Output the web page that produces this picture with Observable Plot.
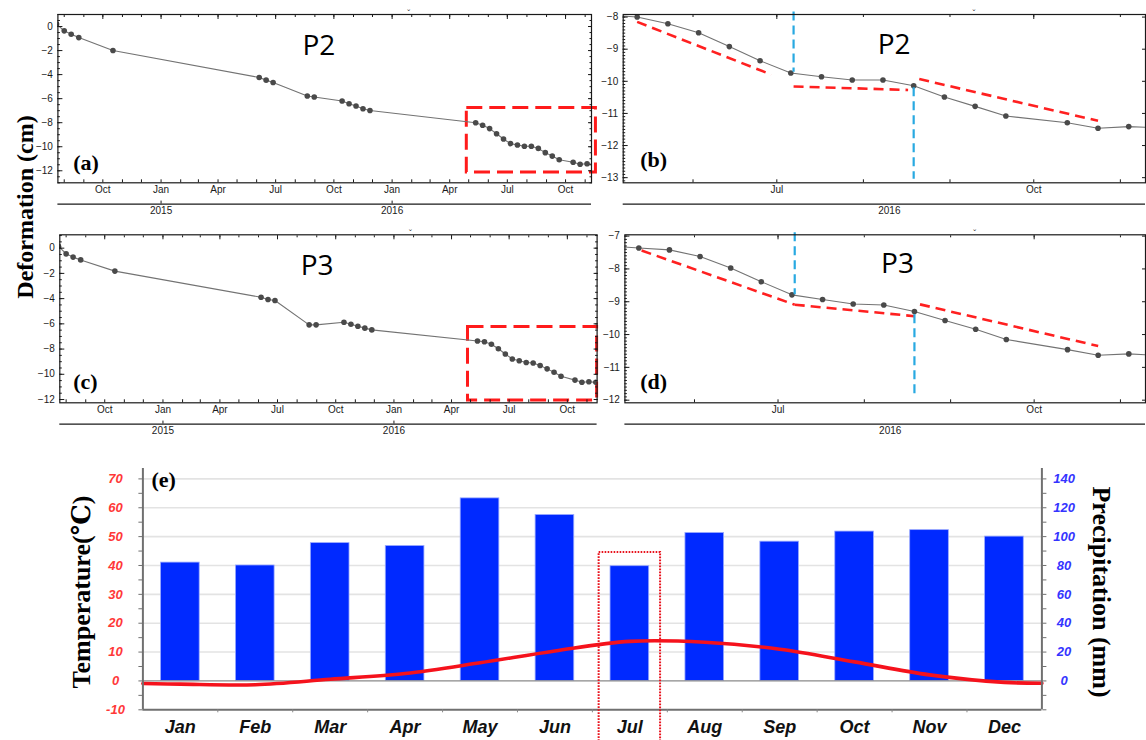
<!DOCTYPE html>
<html><head><meta charset="utf-8">
<script src="https://cdn.jsdelivr.net/npm/d3@7"></script>
<script src="https://cdn.jsdelivr.net/npm/@observablehq/plot@0.6"></script>
<style>
html,body{margin:0;padding:0;background:#fff;}
#fig{position:relative;width:1146px;height:740px;overflow:hidden;background:#fff;}
.ttl{position:absolute;white-space:nowrap;font-family:"Liberation Serif","DejaVu Serif",serif;font-weight:bold;color:#000;line-height:1;}
</style></head><body>
<div id="fig">
  <div class="ttl" style="left:25px;top:207px;font-size:24px;transform:translate(-50%,-50%) rotate(-90deg);">Deformation (cm)</div>
  <div class="ttl" style="left:82px;top:592px;font-size:26px;transform:translate(-50%,-50%) rotate(-90deg);">Temperature(℃)</div>
  <div class="ttl" style="left:1101px;top:592px;font-size:26px;transform:translate(-50%,-50%) rotate(90deg);">Precipitation (mm)</div>
</div>
<script>
// ---------------- data: deformation time series ----------------
const acqDates = ["2014-07-20","2014-08-01","2014-08-12","2014-08-24","2014-10-17",
  "2015-06-05","2015-06-16","2015-06-27","2015-08-20","2015-08-31","2015-10-14","2015-10-25",
  "2015-11-05","2015-11-16","2015-11-27",
  "2016-05-12","2016-05-23","2016-06-03","2016-06-14","2016-06-25","2016-07-06","2016-07-17",
  "2016-07-28","2016-08-08","2016-08-19","2016-08-30","2016-09-10","2016-09-21","2016-10-13",
  "2016-10-24","2016-11-04","2016-11-15"];
const p2Values = [0.2,-0.36,-0.64,-0.92,-2.0,-4.24,-4.46,-4.66,-5.78,-5.86,-6.2,-6.42,-6.61,-6.84,-6.98,
  -8.0,-8.21,-8.49,-8.92,-9.36,-9.74,-9.86,-9.96,-9.96,-10.14,-10.49,-10.78,-11.08,-11.29,-11.46,-11.41,-11.45];
const p3Values = [0.15,-0.45,-0.71,-0.93,-1.82,-3.89,-4.07,-4.15,-6.08,-6.08,-5.87,-6.03,-6.19,-6.34,-6.48,
  -7.36,-7.42,-7.62,-7.97,-8.39,-8.79,-8.93,-9.07,-9.10,-9.30,-9.57,-9.84,-10.15,-10.46,-10.63,-10.59,-10.64];

// trend segments [startDate, startValue, endDate, endValue]
const p2Trends = [["2016-05-12",-8.15,"2016-06-29",-9.79],["2016-07-07",-10.16,"2016-08-17",-10.27],["2016-08-21",-9.93,"2016-10-24",-11.23]];
const p3Trends = [["2016-05-13",-7.44,"2016-07-07",-9.09],["2016-07-07",-9.09,"2016-08-19",-9.44],["2016-08-21",-9.08,"2016-10-24",-10.35]];
// stage breaks [date, fromValue, toValue]
const p2Breaks = [["2016-07-07",-7.84,-9.72],["2016-08-19",-10.2,-13.05]];
const p3Breaks = [["2016-07-07",-6.9,-8.79],["2016-08-19",-9.40,-11.88]];
// zoom boxes [startDate, endDate, top, bottom]
const p2Box = ["2016-04-28","2016-11-18",-6.78,-12.14];
const p3Box = ["2016-04-27","2016-11-17",-6.26,-12.08];

// ---------------- data: climate ----------------
const months = ["Jan","Feb","Mar","Apr","May","Jun","Jul","Aug","Sep","Oct","Nov","Dec"];
const precipitation = [82, 80, 95.5, 93.5, 126.5, 115, 79.5, 102.5, 96.5, 103.5, 104.5, 100];
const temperature = [-1.1, -1.3, 0.6, 2.6, 6.3, 10.4, 13.7, 13.4, 11.0, 6.6, 2.1, -0.5];
const temperatureAtAxes = [-0.9, -0.8];
const tempTicks = [-10, 0, 10, 20, 30, 40, 50, 60, 70];
const precipTicks = [0, 20, 40, 60, 80, 100, 120, 140];
const highlightMonth = ["Jul", 44.5, -21];

// ---------------- helpers ----------------
const parse = d3.utcParse("%Y-%m-%d");
const fig = document.getElementById("fig");
const minus = d => (d < 0 ? "\u2212" + (-d) : String(d));
const tickFont = {fontFamily: "Liberation Sans, Arial, sans-serif", fontSize: 10, fill: "#1a1a1a"};

function place(svg, left, top) {
  svg.style.position = "absolute";
  svg.style.left = left + "px";
  svg.style.top = top + "px";
  fig.appendChild(svg);
}

function tsPanel(o) {
  const series = acqDates.map((d, i) => ({date: parse(d), v: o.values[i]}));
  const [x0, x1] = o.xDomain.map(parse);
  const [y0, y1] = o.yDomain;
  const monthsT = d3.utcMonth.range(x0, x1);
  const quarters = d3.utcMonth.every(3).range(x0, x1);
  const years = d3.utcYear.range(x0, x1);
  const majors = d3.range(Math.ceil(y0 / o.major) * o.major, y1 + 1e-9, o.major).map(v => +v.toFixed(3));
  const minors = d3.range(Math.ceil(y0 / o.minor) * o.minor, y1 + 1e-9, o.minor).map(v => +v.toFixed(3));
  const marks = [
    o.box ? Plot.rect([o.box], {x1: d => parse(d[0]), x2: d => parse(d[1]), y1: d => d[2], y2: d => d[3],
      fill: "none", stroke: "#ff1b1b", strokeWidth: 3, strokeDasharray: "16,7"}) : null,
    Plot.line(series, {x: "date", y: "v", stroke: "#737373", strokeWidth: 1.1, clip: true}),
    Plot.dot(series, {x: "date", y: "v", r: 2.8, fill: "#4a4a4a", clip: true}),
    o.trends ? Plot.link(o.trends, {x1: d => parse(d[0]), y1: d => d[1], x2: d => parse(d[2]), y2: d => d[3],
      stroke: "#ff2020", strokeWidth: 2.6, strokeDasharray: "10,6"}) : null,
    o.breaks ? Plot.ruleX(o.breaks, {x: d => parse(d[0]), y1: d => d[1], y2: d => d[2],
      stroke: "#28a9e1", strokeWidth: 2.2, strokeDasharray: "9,5"}) : null,
    Plot.frame({stroke: "#1a1a1a", strokeWidth: 1.2}),
    Plot.axisX(monthsT, {anchor: "bottom", tickSize: -3, fill: "none", stroke: "#1a1a1a", label: null}),
    Plot.axisX(monthsT, {anchor: "top", tickSize: -2, fill: "none", stroke: "#1a1a1a", label: null}),
    Plot.axisX(quarters, {anchor: "top", tickSize: -4, fill: "none", stroke: "#1a1a1a", label: null}),
    Plot.axisY(minors, {anchor: "left", tickSize: -2.5, fill: "none", stroke: "#1a1a1a", label: null}),
    Plot.axisY(majors, {anchor: "left", tickSize: -5, fill: "none", stroke: "#1a1a1a", label: null}),
    o.rightMinor ? Plot.axisY(minors, {anchor: "right", tickSize: -2.5, fill: "none", stroke: "#1a1a1a", label: null}) : null,
    Plot.axisY(majors, {anchor: "right", tickSize: -4, fill: "none", stroke: "#1a1a1a", label: null}),
    Plot.text(majors, {y: d => d, text: minus, frameAnchor: "left", dx: -5, textAnchor: "end", ...tickFont}),
    Plot.text(quarters, {x: d => d, text: d3.utcFormat("%b"), frameAnchor: "bottom", dy: 10.5, ...tickFont}),
    Plot.ruleY([y0], {dy: 21.3, stroke: "#1a1a1a", strokeWidth: 1.3}),
    years.length ? Plot.axisX(years, {anchor: "bottom", tickSize: 3, dy: 18.3, fill: "none", stroke: "#1a1a1a", label: null}) : null,
    years.length
      ? Plot.text(years, {x: d => d, text: d3.utcFormat("%Y"), frameAnchor: "bottom", dy: 31.5, ...tickFont})
      : Plot.text([d3.utcFormat("%Y")(x0)], {frameAnchor: "bottom", dy: 31.5, dx: 5, ...tickFont}),
    Plot.text(["\u02c7"], {frameAnchor: "top-left", dx: o.caretDx, dy: -3, fontSize: 8, fill: "#333"}),
    Plot.text([o.title], {frameAnchor: "top-left", dx: o.titleDx, dy: o.titleDy, textAnchor: "middle",
      fontFamily: "Open Sans, Liberation Sans, sans-serif", fontSize: 28, fill: "#000"}),
    Plot.text([o.tag], {frameAnchor: "bottom-left", dx: o.tagDx, dy: o.tagDy, textAnchor: "start", lineAnchor: "bottom",
      fontFamily: "Liberation Serif, DejaVu Serif, serif", fontWeight: "bold", fontSize: 22, fill: "#000"})
  ];
  return Plot.plot({
    width: o.width, height: o.height,
    marginLeft: o.ml, marginRight: o.mr, marginTop: o.mt, marginBottom: o.mb,
    style: {background: "transparent", overflow: "visible"},
    x: {type: "utc", domain: [x0, x1]},
    y: {domain: [y0, y1]},
    marks
  });
}

// (a)
place(tsPanel({values: p2Values, xDomain: ["2014-07-22","2016-11-11"], yDomain: [-13, 1], major: 2, minor: 0.5,
  box: p2Box, rightMinor: true, title: "P2", tag: "(a)",
  width: 600, height: 225, ml: 57.4, mr: 9, mt: 14, mb: 42.7,
  titleDx: 261, titleDy: 21, tagDx: 15.3, tagDy: -13, caretDx: 349}), 0, 0);
// (b)
place(tsPanel({values: p2Values, xDomain: ["2016-05-07","2016-11-10"], yDomain: [-13.16, -7.92], major: 1, minor: 0.1,
  trends: p2Trends, breaks: p2Breaks, title: "P2", tag: "(b)",
  width: 586, height: 225, ml: 62.7, mr: 1, mt: 14, mb: 42.7,
  titleDx: 271, titleDy: 19.5, tagDx: 17, tagDy: -16, caretDx: 349}), 560, 0);
// (c)
place(tsPanel({values: p3Values, xDomain: ["2014-07-22","2016-11-17"], yDomain: [-12.26, 1.06], major: 2, minor: 0.5,
  box: p3Box, rightMinor: true, title: "P3", tag: "(c)",
  width: 600, height: 220, ml: 59.3, mr: 3.4, mt: 9.3, mb: 42.7,
  titleDx: 257.4, titleDy: 20.7, tagDx: 13.4, tagDy: -14, caretDx: 349}), 0, 225);
// (d)
place(tsPanel({values: p3Values, xDomain: ["2016-05-07","2016-11-10"], yDomain: [-12.08, -6.96], major: 1, minor: 0.1,
  trends: p3Trends, breaks: p3Breaks, title: "P3", tag: "(d)",
  width: 586, height: 220, ml: 64.4, mr: 1, mt: 9.3, mb: 42.7,
  titleDx: 272.6, titleDy: 18.7, tagDx: 15.3, tagDy: -14, caretDx: 348}), 560, 225);

// (e) climate chart: precipitation bars on a scale of 2 mm per degree
const mmPerDegree = 2;
const barHalf = 0.258;
const boxHalf = 0.41;
const monthIdx = months.map((m, i) => i + 1);
const tempLine = [{x: 0.5, t: temperatureAtAxes[0]},
  ...temperature.map((t, i) => ({x: i + 1, t})),
  {x: months.length + 0.5, t: temperatureAtAxes[1]}];
const xDom = [0.5, months.length + 0.5];
const yDom = [-10, 73.6];
const axisGray = "#707070";
const boldItalic = {fontFamily: "Liberation Sans, Arial, sans-serif", fontWeight: "bold", fontStyle: "italic"};

place(Plot.plot({
  width: 1146, height: 280,
  marginLeft: 142.4, marginRight: 104.6, marginTop: 8, marginBottom: 30.7,
  style: {background: "transparent", overflow: "visible"},
  x: {type: "linear", domain: xDom},
  y: {domain: yDom},
  marks: [
    Plot.ruleY(tempTicks.filter(t => t > 0), {stroke: "#e3e3e3", strokeWidth: 1.6}),
    Plot.rect(monthIdx, {x1: i => i - barHalf, x2: i => i + barHalf, y1: 0, y2: i => precipitation[i - 1] / mmPerDegree,
      fill: "#0029ff", stroke: "#9aaaff", strokeWidth: 0.8}),
    Plot.ruleY([0], {stroke: "#8a8a8a", strokeWidth: 1.3}),
    Plot.line(tempLine, {x: "x", y: "t", curve: "catmull-rom", stroke: "#f5121c", strokeWidth: 3.6}),
    Plot.ruleX(xDom, {y1: yDom[0], y2: yDom[1], stroke: axisGray, strokeWidth: 2}),
    Plot.ruleY([yDom[0]], {stroke: axisGray, strokeWidth: 2}),
    Plot.axisY(d3.range(-10, 71, 5), {anchor: "left", tickSize: 4, fill: "none", stroke: axisGray, label: null}),
    Plot.axisY(d3.range(-10, 71, 5), {anchor: "right", tickSize: 4, fill: "none", stroke: axisGray, label: null}),
    Plot.axisX(d3.range(1.5, months.length, 1), {anchor: "bottom", tickSize: 3, fill: "none", stroke: "#888", label: null}),
    Plot.text(tempTicks, {y: d => d, text: d => String(d), frameAnchor: "left", dx: -27.4, textAnchor: "middle",
      fontSize: 13, fill: "#ff3838", ...boldItalic}),
    Plot.text(precipTicks, {y: d => d / mmPerDegree, text: d => String(d), frameAnchor: "right", dx: 22.2, textAnchor: "middle",
      fontSize: 13, fill: "#3434ff", ...boldItalic}),
    Plot.text(months, {x: (d, i) => i + 1, text: d => d, frameAnchor: "bottom", dy: 23,
      fontSize: 18, fill: "#111", ...boldItalic}),
    Plot.rect([highlightMonth], {x1: d => months.indexOf(d[0]) + 1 - boxHalf, x2: d => months.indexOf(d[0]) + 1 + boxHalf,
      y1: d => d[2], y2: d => d[1], fill: "none", stroke: "#e8121c", strokeWidth: 2, strokeDasharray: "1.6,1.4"}),
    Plot.text(["(e)"], {frameAnchor: "top-left", dx: 8.6, dy: 18.5, textAnchor: "start", lineAnchor: "bottom",
      fontFamily: "Liberation Serif, DejaVu Serif, serif", fontWeight: "bold", fontSize: 22, fill: "#000"})
  ]
}), 0, 460);
</script>
</body></html>
